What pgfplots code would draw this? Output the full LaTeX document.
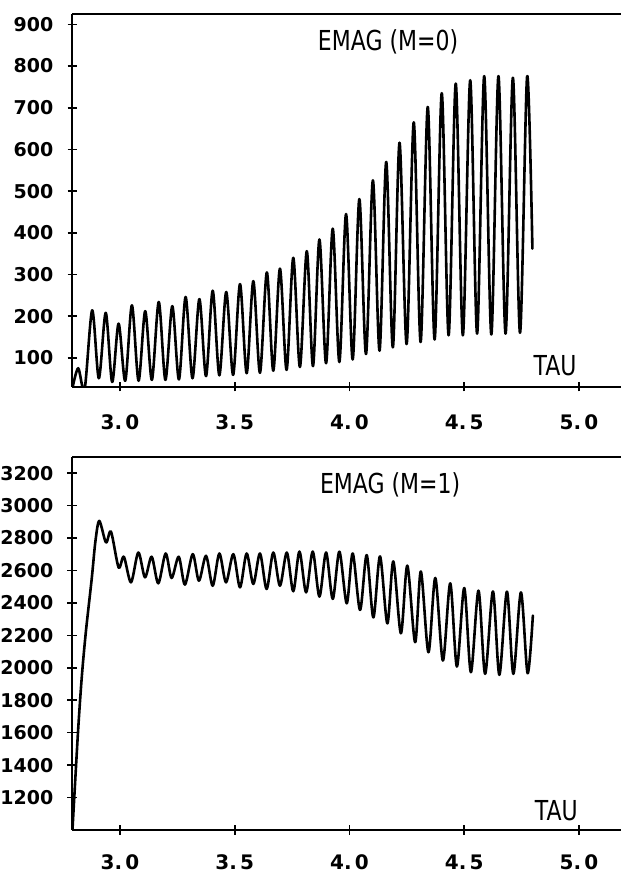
\documentclass[border=0pt]{standalone}
\usepackage{fontspec}
\setmainfont{DejaVu Sans}
\usepackage{graphicx}
\usepackage{pgfplots}
\pgfplotsset{compat=1.18}

% common look of both EMAG panels
\pgfplotsset{
  emag/.style={
    scale only axis, width=549pt, height=373pt,
    xmin=2.791, xmax=5.183,
    axis lines=left, axis line style={-, line width=1.8pt, black},
    xtick={3,3.5,4,4.5,5},
    xticklabels={3.\,0, 3.\,5, 4.\,0, 4.\,5, 5.\,0},
    tick align=center, major tick length=9pt,
    tick style={line width=1.6pt, black},
    xticklabel style={font=\fontsize{20}{20}\selectfont\bfseries, anchor=north, inner sep=0pt, yshift=-23pt},
    yticklabel style={font=\fontsize{19}{19}\selectfont\bfseries, anchor=east, inner sep=0pt, xshift=-14pt},
    /pgf/number format/assume math mode=true,
    /pgf/number format/1000 sep={},
    clip mode=individual,
  },
  emagline/.style={black, line width=2.6pt, smooth, line join=round, line cap=round, mark=none},
}
\newcommand{\lbl}[1]{\scalebox{0.8}[1]{\fontsize{27.5}{28}\selectfont #1}}

\begin{document}
\begin{tikzpicture}
\useasboundingbox (0,0) rectangle (621pt,875pt);

% ---- M = 0 ----
\begin{axis}[emag, at={(72pt,488pt)}, anchor=south west,
  ymin=30, ymax=925, ytick={100,200,...,900}]
\addplot[emagline] coordinates {
(2.792,25) (2.818,75) (2.846,25)
(2.879,214) (2.908,51) (2.938,208) (2.966,42) (2.994,182) (3.023,45)
(3.052,226) (3.081,45) (3.110,212) (3.139,47) (3.169,234) (3.198,47)
(3.228,224) (3.257,48) (3.286,246) (3.316,51) (3.346,241) (3.375,56)
(3.404,261) (3.433,58) (3.463,258) (3.493,59) (3.523,277) (3.552,63)
(3.581,284) (3.610,64) (3.640,305) (3.668,69) (3.697,314) (3.726,71)
(3.755,340) (3.784,78) (3.814,356) (3.841,80) (3.869,384) (3.898,87)
(3.927,410) (3.956,90) (3.985,445) (4.014,96) (4.043,481) (4.072,109)
(4.102,526) (4.131,117) (4.160,570) (4.189,125) (4.218,616) (4.249,133)
(4.280,665) (4.310,138) (4.341,702) (4.371,144) (4.402,735) (4.432,154)
(4.463,758) (4.494,154) (4.526,766) (4.556,158) (4.587,776) (4.618,156)
(4.649,776) (4.680,158) (4.712,772) (4.743,160) (4.774,776) (4.797,362)
};
\draw[line width=1.8pt] (rel axis cs:0,1) -- (rel axis cs:1,1);
\node at (axis cs:4.168,858) {\lbl{EMAG (M=0)}};
\node at (axis cs:4.896,82) {\lbl{TAU}};
\end{axis}

% ---- M = 1 ----
\begin{axis}[emag, at={(72pt,45pt)}, anchor=south west,
  ymin=1000, ymax=3300, ytick={1200,1400,...,3200},
  xticklabel style={yshift=3pt}]
\addplot[emagline] coordinates {
(2.793,1000) (2.817,1600) (2.834,1950) (2.852,2230) (2.877,2550) (2.893,2780)
(2.910,2906) (2.939,2773) (2.961,2839) (2.994,2619) (3.017,2685) (3.048,2527)
(3.080,2711) (3.109,2558) (3.138,2685) (3.167,2521) (3.199,2705) (3.225,2554)
(3.256,2685) (3.283,2513) (3.317,2701) (3.344,2537) (3.375,2691) (3.404,2506)
(3.433,2705) (3.462,2527) (3.494,2701) (3.523,2496) (3.552,2705) (3.581,2517)
(3.610,2705) (3.639,2486) (3.668,2711) (3.697,2506) (3.727,2711) (3.755,2472)
(3.782,2717) (3.811,2465) (3.840,2717) (3.869,2439) (3.898,2711) (3.927,2425)
(3.956,2716) (3.988,2398) (4.014,2705) (4.046,2357) (4.075,2695) (4.104,2311)
(4.133,2687) (4.165,2274) (4.191,2656) (4.224,2213) (4.252,2630) (4.286,2158)
(4.311,2594) (4.344,2096) (4.374,2554) (4.407,2045) (4.439,2521) (4.468,2008)
(4.500,2492) (4.529,1973) (4.562,2476) (4.591,1963) (4.625,2471) (4.653,1957)
(4.686,2470) (4.714,1963) (4.747,2465) (4.776,1967) (4.799,2322)
};
\draw[line width=1.8pt] (rel axis cs:0,1) -- (rel axis cs:1,1);
\node at (axis cs:4.177,3128) {\lbl{EMAG (M=1)}};
\node at (axis cs:4.901,1122) {\lbl{TAU}};
\end{axis}
\end{tikzpicture}
\end{document}
